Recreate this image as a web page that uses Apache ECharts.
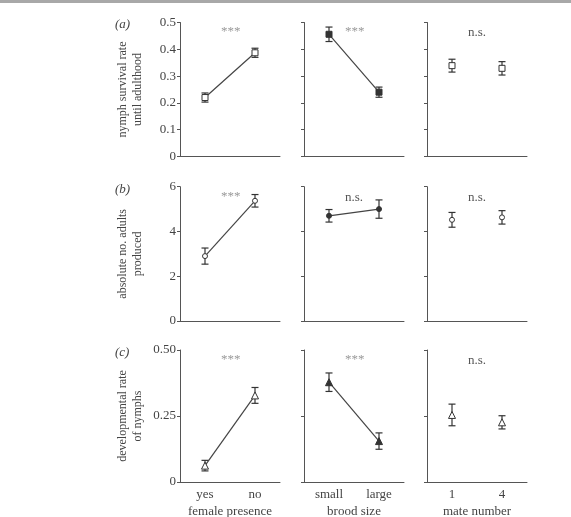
<!DOCTYPE html>
<html><head><meta charset="utf-8">
<script src="https://cdn.jsdelivr.net/npm/echarts@6/dist/echarts.min.js"></script>
<style>html,body{margin:0;padding:0;background:#fff}#c{width:571px;height:517px}</style>
</head><body><div id="c"></div>
<script>
// categories per column
const catsFemale = ['yes', 'no'];
const catsBrood = ['small', 'large'];
const catsMate = ['1', '4'];
const xTitles = ['female presence', 'brood size', 'mate number'];
// row (a): nymph survival rate until adulthood
const survivalMean = [[0.22, 0.387], [0.456, 0.24], [0.339, 0.329]];
const survivalErr  = [[0.017, 0.017], [0.027, 0.019], [0.024, 0.025]];
// row (b): absolute no. adults produced
const adultsMean = [[2.9, 5.37], [4.70, 5.0], [4.52, 4.63]];
const adultsErr  = [[0.36, 0.28], [0.28, 0.41], [0.33, 0.30]];
// row (c): developmental rate of nymphs
const devMean = [[0.062, 0.328], [0.378, 0.155], [0.254, 0.226]];
const devErr  = [[0.02, 0.03], [0.035, 0.031], [0.041, 0.025]];
// significance
const sigA = ['***', '***', 'n.s.'];
const sigB = ['***', 'n.s.', 'n.s.'];
const sigC = ['***', '***', 'n.s.'];
const rowLetters = ['(a)', '(b)', '(c)'];
const rowNames = ['nymph survival rate\nuntil adulthood', 'absolute no. adults\nproduced', 'developmental rate\nof nymphs'];
const yTicksA = [0, 0.5, 0.1];
const yTicksB = [0, 6, 2];
const yTicksC = [0, 0.5, 0.25];

const cats = [catsFemale, catsBrood, catsMate];
const means = [survivalMean, adultsMean, devMean];
const errs = [survivalErr, adultsErr, devErr];
const sigs = [sigA, sigB, sigC];
const yTicks = [yTicksA, yTicksB, yTicksC];
const symbols = ['rect', 'circle', 'triangle'];
const symSizes = [6, 5, 7];

const FONT = 'Liberation Serif';
const AX = '#555';
const colL = [180, 304, 427];
const colW = 100;
const rowT = [22.5, 186.7, 350];
const rowH = [134, 134.3, 132];

const grids = [], xAxes = [], yAxes = [], series = [], graphics = [];
graphics.push({type: 'rect', shape: {x: 0, y: 0, width: 571, height: 3}, style: {fill: '#a8a8a8'}});
for (let r = 0; r < 3; r++) {
  for (let c = 0; c < 3; c++) {
    const gi = r * 3 + c;
    grids.push({left: colL[c], top: rowT[r], width: colW, height: rowH[r], containLabel: false, outerBoundsMode: 'none'});
    xAxes.push({
      type: 'category', gridIndex: gi, data: cats[c], boundaryGap: true,
      axisLine: {lineStyle: {color: AX, width: 1}},
      axisTick: {alignWithLabel: true, length: 4, lineStyle: {color: AX}},
      axisLabel: {show: r === 2, color: '#444', fontFamily: FONT, fontSize: 13, margin: 6},
      name: r === 2 ? xTitles[c] : '', nameLocation: 'middle', nameGap: 23,
      nameTextStyle: {color: '#444', fontFamily: FONT, fontSize: 13}
    });
    const yt = yTicks[r];
    yAxes.push({
      type: 'value', gridIndex: gi, min: yt[0], max: yt[1], interval: yt[2],
      axisLine: {show: true, lineStyle: {color: AX, width: 1}},
      axisTick: {show: true, length: 3, lineStyle: {color: AX}},
      splitLine: {show: false},
      axisLabel: {show: c === 0, color: '#444', fontFamily: FONT, fontSize: 13, margin: 4,
        formatter: v => r === 2 ? (v === 0 ? '0' : v.toFixed(2)) : (r === 0 ? (v === 0 ? '0' : v.toFixed(1)) : String(v))},
      name: c === 0 ? rowNames[r] : '', nameLocation: 'middle', nameGap: 35, nameRotate: 90,
      nameTextStyle: {color: '#444', fontFamily: FONT, fontSize: 12, lineHeight: 15}
    });
    const m = means[r][c], e = errs[r][c];
    const pts = cats[c].map((k, i) => [k, m[i]]);
    // error bars
    series.push({
      type: 'custom', xAxisIndex: gi, yAxisIndex: gi, z: 3,
      data: cats[c].map((k, i) => [k, m[i] - e[i], m[i] + e[i]]),
      renderItem: function (params, api) {
        const lo = api.coord([api.value(0), api.value(1)]);
        const hi = api.coord([api.value(0), api.value(2)]);
        const hw = 3.5;
        const st = {stroke: '#333', lineWidth: 1.2};
        return {type: 'group', children: [
          {type: 'line', shape: {x1: lo[0], y1: lo[1], x2: hi[0], y2: hi[1]}, style: st},
          {type: 'line', shape: {x1: lo[0] - hw, y1: lo[1], x2: lo[0] + hw, y2: lo[1]}, style: st},
          {type: 'line', shape: {x1: hi[0] - hw, y1: hi[1], x2: hi[0] + hw, y2: hi[1]}, style: st}
        ]};
      }
    });
    const filled = c === 1;
    series.push({
      type: 'line', xAxisIndex: gi, yAxisIndex: gi, z: 4, data: pts,
      symbol: symbols[r], symbolSize: symSizes[r], showSymbol: true,
      lineStyle: {color: '#444', width: c === 2 ? 0 : 1.2, opacity: c === 2 ? 0 : 1},
      itemStyle: {color: filled ? '#333' : '#fff', borderColor: '#333', borderWidth: 1},
      animation: false, silent: true
    });
    const isStar = sigs[r][c] === '***';
    graphics.push({
      type: 'text', left: colL[c] + colW / 2 - 9, top: rowT[r] + (isStar ? 3 : 4),
      style: {text: sigs[r][c], fill: isStar ? '#999' : '#555', font: '13px ' + FONT}
    });
  }
  graphics.push({
    type: 'text', left: 115, top: rowT[r] - 4,
    style: {text: rowLetters[r], fill: '#444', font: 'italic 13px ' + FONT}
  });
}

const chart = echarts.init(document.getElementById('c'), null, {renderer: 'canvas'});
chart.setOption({
  animation: false,
  grid: grids, xAxis: xAxes, yAxis: yAxes, series: series, graphic: graphics
});
</script></body></html>
